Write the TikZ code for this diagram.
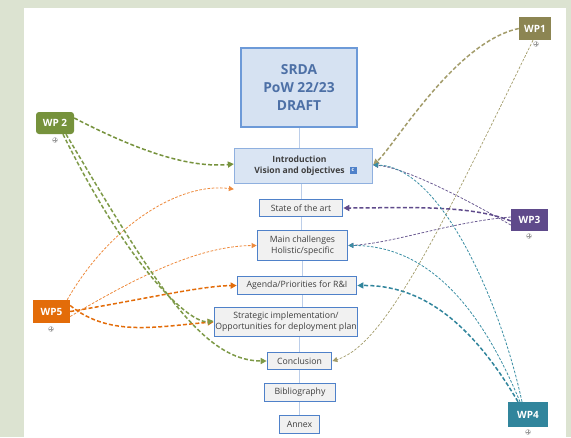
\documentclass[tikz,border=0pt]{standalone}
\usepackage{fontspec}
\setmainfont{Open Sans}
\usetikzlibrary{arrows.meta}
\definecolor{bgc}{HTML}{DCE3D1}
\definecolor{boxfill}{HTML}{F1F1F1}
\definecolor{boxline}{HTML}{4F81C9}
\definecolor{introfill}{HTML}{DAE5F3}
\definecolor{introline}{HTML}{8FB0DF}
\definecolor{srdafill}{HTML}{D6E2F2}
\definecolor{srdaline}{HTML}{6D9AD8}
\definecolor{srdatext}{HTML}{4D70A6}
\definecolor{txt}{HTML}{3F3F3F}
\definecolor{spinec}{HTML}{BCCEE9}
\definecolor{wpone}{HTML}{8C8552}
\definecolor{wptwo}{HTML}{76923C}
\definecolor{wpthree}{HTML}{5F4A8B}
\definecolor{wpfour}{HTML}{31859C}
\definecolor{wpfive}{HTML}{E36C09}
\definecolor{olivel}{HTML}{A39C6A}
\definecolor{greenl}{HTML}{7E9A48}
\definecolor{purplel}{HTML}{6E5E94}
\definecolor{teall}{HTML}{3A8EA4}
\definecolor{orangel}{HTML}{EE8A3C}
\tikzset{
  sec/.style={draw=boxline, fill=boxfill, line width=1.7pt, inner sep=0pt, align=center,
    font=\fontsize{8.7}{11}\selectfont, text=txt},
  wpbox/.style={fill=#1, inner sep=0pt, minimum width=38pt, minimum height=23pt,
    text=white, font=\bfseries\fontsize{10}{12}\selectfont},
  plusc/.style={circle, draw=gray!70, fill=white, line width=0.4pt, minimum size=5pt, inner sep=0pt,
    path picture={\draw[gray!80, line width=0.4pt]
      ([yshift=-1.6pt]path picture bounding box.center) -- ([yshift=1.6pt]path picture bounding box.center)
      ([xshift=-1.6pt]path picture bounding box.center) -- ([xshift=1.6pt]path picture bounding box.center);}},
  thickc/.style={draw=#1, line width=1.5pt, dash pattern=on 4pt off 2.2pt,
    -{Triangle[length=6pt,width=6pt]}},
  thinc/.style={draw=#1, line width=0.8pt, dash pattern=on 2.6pt off 1.6pt,
    -{Triangle[length=5pt,width=5pt]}},
  spine/.style={draw=spinec, line width=1pt},
}
\begin{document}
\begin{tikzpicture}[x=1pt,y=-1pt]
\useasboundingbox (0,0) rectangle (571,437);
\fill[bgc] (0,0) rectangle (571,437);
\fill[white] (24,8) rectangle (566,437);

% main boxes
\node[draw=srdaline, fill=srdafill, line width=2.6pt, minimum width=116pt, minimum height=79pt,
  inner sep=0pt, align=center, text=srdatext, font=\bfseries\fontsize{13.8}{18}\selectfont]
  (srda) at (299,87.5) {SRDA\\PoW 22/23\\DRAFT};
\node[draw=introline, fill=introfill, line width=1.3pt, minimum width=138pt, minimum height=35pt,
  inner sep=0pt, align=center, text=txt, font=\bfseries\fontsize{8.6}{11.5}\selectfont]
  (intro) at (303.5,166) {\hspace*{-8pt}Introduction\\\hspace*{-8pt}Vision and objectives};
\node[fill=boxline, minimum size=7pt, inner sep=0pt, text=white, font=\bfseries\fontsize{5}{5}\selectfont]
  (icon) at (353,170.5) {c};
\node[sec, minimum width=83pt, minimum height=17pt] (state) at (301,208) {State of the art};
\node[sec, minimum width=90pt, minimum height=30pt] (main) at (302.5,245.5) {Main challenges\\Holistic/specific};
\node[sec, minimum width=119pt, minimum height=18pt] (agenda) at (297,285.5) {Agenda/Priorities for R\&I};
\node[sec, minimum width=143pt, minimum height=29pt] (strat) at (286,322) {Strategic implementation/\\Opportunities for deployment plan};
\node[sec, minimum width=64pt, minimum height=17pt] (concl) at (299.5,361) {Conclusion};
\node[sec, minimum width=71pt, minimum height=18pt] (biblio) at (300,392.5) {Bibliography};
\node[sec, minimum width=40pt, minimum height=18pt] (annex) at (299.5,424.5) {Annex};

% spine
\draw[spine] (srda.south) -- (srda.south |- intro.north);
\draw[spine] (intro.south -| state.north) -- (state.north);
\draw[spine] (state.south) -- (state.south |- main.north);
\draw[spine] (main.south) -- (main.south |- agenda.north);
\draw[spine] (agenda.south -| main.south) -- (main.south |- strat.north);
\draw[spine] (strat.south -| concl.north) -- (concl.north);
\draw[spine] (concl.south) -- (concl.south |- biblio.north);
\draw[spine] (biblio.south -| annex.north) -- (annex.north);

% WP nodes
\node[wpbox=wpone, minimum width=32pt] (wp1) at (535,28.5) {WP1};
\node[wpbox=wptwo, rounded corners=3pt, minimum height=22pt] (wp2) at (55,123) {WP 2};
\node[wpbox=wpthree, minimum width=37pt, minimum height=22pt] (wp3) at (529.5,220) {WP3};
\node[wpbox=wpfour, minimum width=40pt, minimum height=25pt] (wp4) at (528,414.5) {WP4};
\node[wpbox=wpfive, minimum width=37pt] (wp5) at (51.5,311.5) {WP5};
\node[plusc] (p1) at (536,44) {};
\node[plusc] (p2) at (55,140) {};
\node[plusc] (p3) at (529,236) {};
\node[plusc] (p4) at (528,432) {};
\node[plusc] (p5) at (51,329) {};

% WP5 connectors
\draw[thinc=orangel] ([xshift=-3pt]wp5.north east) .. controls (110,225) and (180,182) .. ([yshift=-5pt]intro.south west);
\draw[thinc=orangel] ([yshift=-5pt]wp5.east) .. controls (140,275) and (200,246) .. (main.west);
\draw[thickc=wpfive] (wp5.east) .. controls (140,300) and (200,286) .. (agenda.west);
\draw[thickc=wpfive] ([yshift=6pt]wp5.east) .. controls (110,338) and (160,326) .. (strat.west);

% WP2 connectors
\draw[thickc=wptwo] ([yshift=5pt]wp2.east) .. controls (140,152) and (190,168) .. ([yshift=2pt]intro.west);
\draw[thickc=greenl] ([xshift=8pt]wp2.south) .. controls (130,270) and (190,324) .. ([yshift=1pt]strat.west);
\draw[thickc=greenl] ([xshift=11pt]wp2.south) .. controls (150,275) and (200,361) .. (concl.west);

% WP1 connectors
\draw[thickc=olivel] (wp1.west) .. controls (455,42) and (395,145) .. ([yshift=1pt]intro.east);
\draw[thinc=olivel, line width=0.7pt] ([xshift=-2pt]wp1.south) .. controls (440,230) and (385,345) .. (concl.east);

% WP3 connectors
\draw[thinc=purplel] ([yshift=-5pt]wp3.west) .. controls (450,190) and (400,167) .. ([yshift=1pt]intro.east);
\draw[thickc=wpthree] ([yshift=-1pt]wp3.west) .. controls (470,204) and (400,208) .. (state.east);
\draw[thinc=purplel] ([yshift=3pt]wp3.west) .. controls (450,222) and (395,243) .. (main.east);

% WP4 connectors
\draw[thickc=wpfour] ([xshift=-10pt]wp4.north) .. controls (470,320) and (420,285) .. (agenda.east);
\draw[thinc=teall] ([xshift=-8pt]wp4.north) .. controls (490,330) and (440,245) .. (main.east);
\draw[thinc=teall] ([xshift=-6pt]wp4.north) .. controls (500,300) and (440,166) .. ([yshift=1pt]intro.east);
\end{tikzpicture}
\end{document}
